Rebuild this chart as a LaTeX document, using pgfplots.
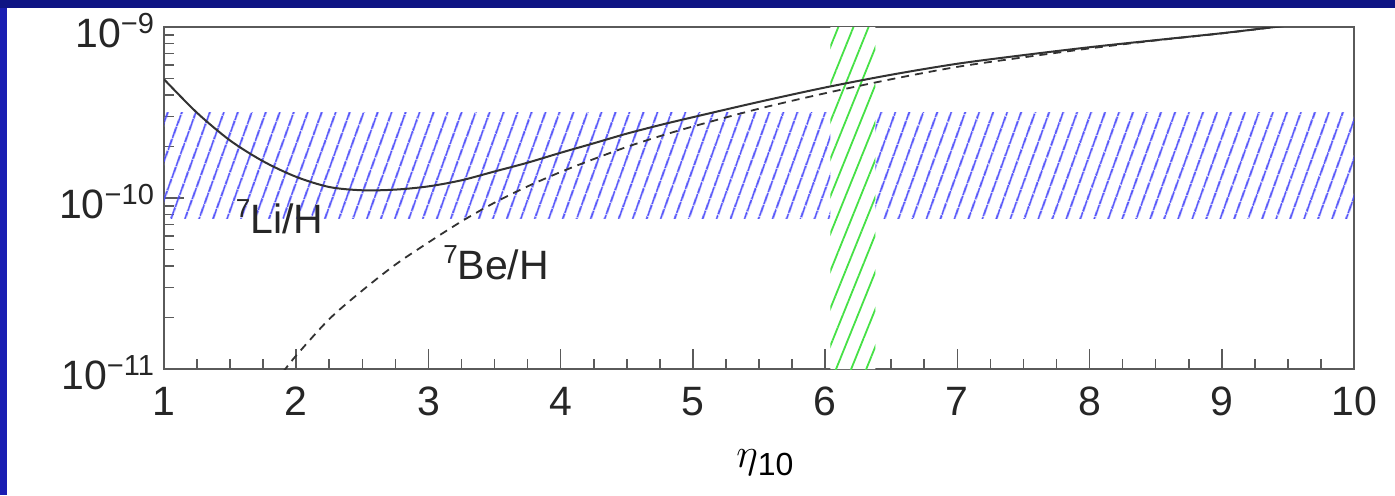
\documentclass[border=0pt]{standalone}
\usepackage{pgfplots}
\pgfplotsset{compat=1.18}
\usepackage{fontspec}
\setmainfont{Liberation Sans}
\usetikzlibrary{patterns.meta}
\definecolor{topblue}{RGB}{14,20,132}
\definecolor{leftblue}{RGB}{26,30,178}
\definecolor{hatchblue}{RGB}{72,72,250}
\definecolor{hatchgreen}{RGB}{70,225,70}
\definecolor{curve}{RGB}{50,50,50}
\definecolor{axisgray}{RGB}{90,90,90}
\newcommand{\mysup}[1]{\raisebox{7pt}{\fontsize{14.5}{14.5}\selectfont #1}}
\begin{document}
\begin{tikzpicture}
\useasboundingbox (0,0) rectangle (697.5pt,247.5pt);
\fill[topblue] (0,0) rectangle (697.5pt,247.5pt);
\fill[leftblue] (0,0) rectangle (3.5pt,243.5pt);
\fill[white] (3.5pt,0) rectangle (697.5pt,243.5pt);
\begin{axis}[
  at={(82pt,63pt)}, anchor=south west,
  scale only axis, width=595pt, height=171pt,
  xmin=1, xmax=10, ymin=1e-11, ymax=1e-9,
  ymode=log,
  axis line style={axisgray, line width=1pt},
  tick style={axisgray, line width=0.8pt},
  major tick length=10pt, minor tick length=5pt,
  xtick pos=bottom, ytick pos=left,
  xtick={1,2,3,4,5,6,7,8,9,10},
  xticklabels={1,2,3,4,5,6,7,8,9,10},
  minor x tick num=3,
  ytick={1e-11,1e-10,1e-9},
  yticklabels={10\mysup{−11},10\mysup{−10},10\mysup{−9}},
  minor ytick={2e-11,3e-11,4e-11,5e-11,6e-11,7e-11,8e-11,9e-11,2e-10,3e-10,4e-10,5e-10,6e-10,7e-10,8e-10,9e-10},
  tick label style={font=\fontsize{20.5}{20.5}\selectfont, black!85},
  xticklabel style={yshift=-5.5pt},
  yticklabel style={xshift=-1.5pt, yshift=-2pt},
  xlabel={\fontsize{22}{22}\selectfont$\eta$\raisebox{-4pt}{\fontsize{16}{16}\selectfont 10}},
  xlabel style={at={(axis description cs:0.505,-0.275)}, anchor=center},
  clip=true,
]
% blue hatched band (observed 7Li/H)
\addplot[draw=none, pattern={Lines[angle=70,distance=6.5pt,line width=1pt]}, pattern color=hatchblue]
  coordinates {(1,7.6e-11) (10,7.6e-11) (10,3.15e-10) (1,3.15e-10) (1,7.6e-11)};
% green hatched band (eta from CMB), white underneath
\addplot[draw=none, fill=white]
  coordinates {(6.04,1e-11) (6.38,1e-11) (6.38,1e-9) (6.04,1e-9) (6.04,1e-11)};
\addplot[draw=none, pattern={Lines[angle=68,distance=7pt,line width=0.9pt]}, pattern color=hatchgreen]
  coordinates {(6.04,1e-11) (6.38,1e-11) (6.38,1e-9) (6.04,1e-9) (6.04,1e-11)};
% 7Li/H solid
\addplot[curve, line width=1pt, smooth] coordinates {
(1.0,4.95e-10) (1.25,3.15e-10) (1.5,2.17e-10) (1.75,1.64e-10) (2.0,1.33e-10)
(2.25,1.16e-10) (2.5,1.11e-10) (2.75,1.12e-10) (3.0,1.17e-10) (3.25,1.27e-10)
(3.5,1.43e-10) (3.75,1.61e-10) (4.0,1.84e-10) (4.25,2.09e-10) (4.5,2.38e-10)
(4.75,2.67e-10) (5.0,2.97e-10)
(5.5,3.65e-10) (6.0,4.43e-10) (6.5,5.26e-10) (7.0,6.1e-10) (7.5,6.85e-10)
(8.0,7.62e-10) (8.5,8.38e-10) (9.0,9.2e-10) (9.4,1.0e-9) (9.6,1.04e-9)};
% 7Be/H dashed
\addplot[curve, line width=0.9pt, dash pattern=on 4pt off 3pt, smooth] coordinates {
(1.9,0.96e-11) (2.0,1.2e-11) (2.25,1.96e-11) (2.5,2.88e-11) (2.75,4.08e-11)
(3.0,5.5e-11) (3.25,7.3e-11) (3.5,9.4e-11) (3.75,1.17e-10) (4.0,1.42e-10)
(4.25,1.69e-10) (4.5,1.99e-10) (4.75,2.3e-10) (5.0,2.62e-10) (5.5,3.33e-10)
(6.0,4.1e-10) (6.5,4.95e-10)
(7.0,5.85e-10) (7.5,6.65e-10) (8.0,7.5e-10) (8.5,8.35e-10) (9.0,9.18e-10)
(9.4,1.0e-9) (9.6,1.04e-9)};
\node[anchor=base west, inner sep=0pt, font=\fontsize{20.5}{20.5}\selectfont, black!85]
  at (axis cs:1.54,6.2e-11) {\raisebox{8pt}{\fontsize{13}{13}\selectfont 7}Li/H};
\node[anchor=base west, inner sep=0pt, font=\fontsize{20.5}{20.5}\selectfont, black!85]
  at (axis cs:3.11,3.36e-11) {\raisebox{8pt}{\fontsize{13}{13}\selectfont 7}Be/H};
\end{axis}
\end{tikzpicture}
\end{document}
